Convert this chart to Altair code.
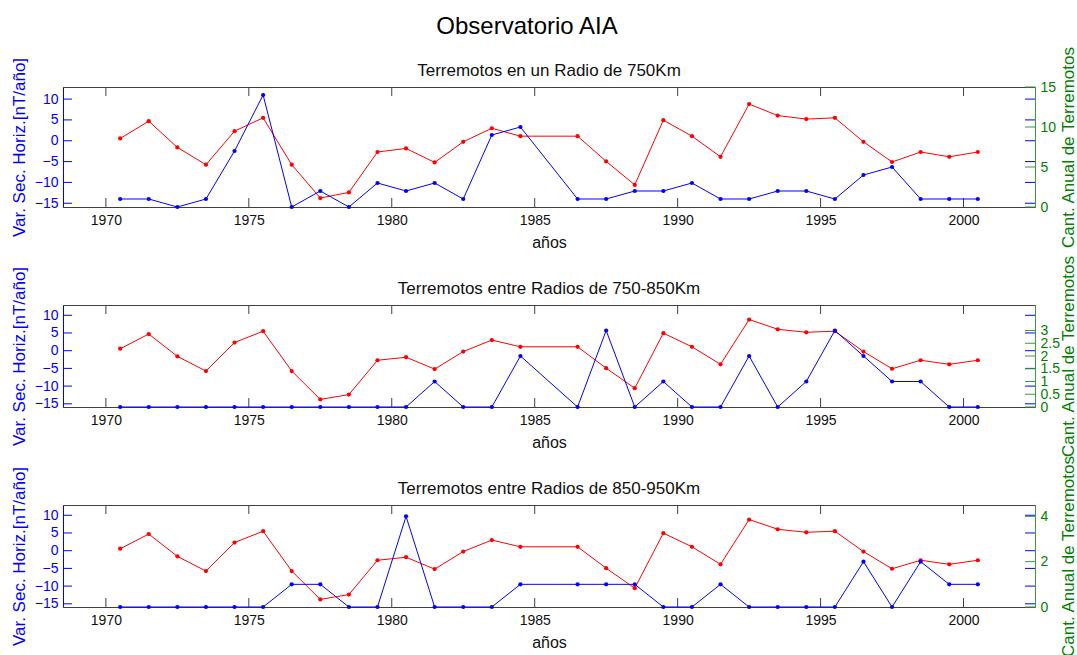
import altair as alt
import pandas as pd

# Mid-year sample positions (no record for 1985)
years = [1970.5, 1971.5, 1972.5, 1973.5, 1974.5, 1975.5, 1976.5, 1977.5, 1978.5, 1979.5,
         1980.5, 1981.5, 1982.5, 1983.5, 1984.5, 1986.5, 1987.5, 1988.5, 1989.5, 1990.5,
         1991.5, 1992.5, 1993.5, 1994.5, 1995.5, 1996.5, 1997.5, 1998.5, 1999.5, 2000.5]

# Secular variation of the horizontal component [nT/year]
var_sec = [0.55, 4.7, -1.6, -5.75, 2.3, 5.5, -5.75, -13.75, -12.4, -2.7,
           -1.85, -5.2, -0.25, 3.0, 1.1, 1.1, -4.95, -10.6, 4.95, 1.1,
           -3.85, 8.8, 6.05, 5.2, 5.5, -0.25, -5.1, -2.7, -3.85, -2.7]

# Yearly earthquake counts per distance band
cant_750 = [1, 1, 0, 1, 7, 14, 0, 2, 0, 3, 2, 3, 1, 9, 10,
            1, 1, 2, 2, 3, 1, 1, 2, 2, 1, 4, 5, 1, 1, 1]
cant_750_850 = [0, 0, 0, 0, 0, 0, 0, 0, 0, 0, 0, 1, 0, 0, 2,
                0, 3, 0, 1, 0, 0, 2, 0, 1, 3, 2, 1, 1, 0, 0]
cant_850_950 = [0, 0, 0, 0, 0, 0, 1, 1, 0, 0, 4, 0, 0, 0, 1,
                1, 1, 1, 0, 0, 1, 0, 0, 0, 0, 2, 0, 2, 1, 1]

x_ticks = [1970, 1975, 1980, 1985, 1990, 1995, 2000]
left_ticks = [-15, -10, -5, 0, 5, 10]

FONT = "Liberation Sans"
BLUE = "#0000ff"
RED = "#ff0000"
GREEN = "#008000"
GREEN_LINE = "#3a9a3a"
FRAME = "#404040"
W = 972
TICK = 9
YTITLE = 17

x_scale = alt.Scale(domain=[1968.5, 2002.5], nice=False, zero=False)
left_scale = alt.Scale(domain=[-15.9, 12.9], nice=False, zero=False)


def panel(subtitle, counts, right_max, right_ticks, h, sub_offset):
    df = pd.DataFrame({"anio": years, "var": var_sec, "cant": counts})
    xt = pd.DataFrame({"anio": x_ticks})
    lt = pd.DataFrame({"var": left_ticks})
    rt = pd.DataFrame({"cant": right_ticks})
    base = alt.Chart(df)

    # every layer carries the same axis definition so the shared axes merge cleanly
    x_axis = alt.Axis(values=x_ticks, format="d", ticks=False, domain=False, grid=False,
                      title="años", labelFontSize=14, titleFontSize=16,
                      titleFontWeight="normal", labelColor="#111111", titleColor="#111111",
                      labelPadding=6, titleY=40, titleBaseline="alphabetic")
    x_enc = alt.X("anio:Q", scale=x_scale, axis=x_axis)

    left_axis = alt.Axis(orient="left", values=left_ticks, ticks=False, grid=False,
                         domainColor=BLUE, labelColor=BLUE, titleColor=BLUE,
                         labelFontSize=14, titleFontSize=YTITLE, titleFontWeight="normal",
                         labelPadding=5, title="Var. Sec. Horiz.[nT/año]",
                         titleX=-44, titleY=h / 2, titleAngle=270,
                         titleAlign="center", titleBaseline="middle")
    y_left = alt.Y("var:Q", scale=left_scale, axis=left_axis)

    red_line = base.mark_line(color=RED, strokeWidth=1).encode(x=x_enc, y=y_left)
    red_pts = base.mark_point(color=RED, filled=True, size=18, opacity=1).encode(
        x=x_enc, y=y_left)

    top_ticks = alt.Chart(xt).mark_rule(color=FRAME, strokeWidth=1).encode(
        x=x_enc, y=alt.value(0), y2=alt.value(TICK))
    bot_ticks = alt.Chart(xt).mark_rule(color=FRAME, strokeWidth=1).encode(
        x=x_enc, y=alt.value(h - TICK), y2=alt.value(h))
    lt_left = alt.Chart(lt).mark_rule(color=BLUE, strokeWidth=1).encode(
        y=y_left, x=alt.value(0), x2=alt.value(TICK))
    lt_right = alt.Chart(lt).mark_rule(color=BLUE, strokeWidth=1).encode(
        y=y_left, x=alt.value(W - TICK - 1), x2=alt.value(W))

    left = alt.layer(red_line, red_pts, top_ticks, bot_ticks, lt_left, lt_right)

    right_scale = alt.Scale(domain=[0, right_max], nice=False, zero=False)
    right_axis = alt.Axis(orient="right", values=right_ticks, format="~g", ticks=False,
                          grid=False, domainColor=GREEN_LINE, labelColor=GREEN,
                          titleColor=GREEN, labelFontSize=14, titleFontSize=YTITLE,
                          titleFontWeight="normal", labelPadding=5, labelOverlap=False,
                          labelFlush=False, title="Cant. Anual de Terremotos",
                          titleX=33, titleY=h / 2, titleAngle=270,
                          titleAlign="center", titleBaseline="middle")
    y_right = alt.Y("cant:Q", scale=right_scale, axis=right_axis)

    blue_line = base.mark_line(color=BLUE, strokeWidth=1).encode(x=x_enc, y=y_right)
    blue_pts = base.mark_point(color=BLUE, filled=True, size=18, opacity=1).encode(
        x=x_enc, y=y_right)
    gt = alt.Chart(rt).mark_rule(color=GREEN_LINE, strokeWidth=1).encode(
        y=y_right, x=alt.value(W - TICK - 1), x2=alt.value(W))

    right = alt.layer(blue_line, blue_pts, gt)

    return alt.layer(left, right).resolve_scale(y="independent").properties(
        width=W, height=h,
        title=alt.TitleParams(subtitle, fontSize=17, fontWeight="normal", color="#111111",
                              frame="group", anchor="middle", baseline="alphabetic",
                              offset=sub_offset),
    )


p1 = panel("Terremotos en un Radio de 750Km", cant_750, 15, [0, 5, 10, 15], 120, -47)
p2 = panel("Terremotos entre Radios de 750-850Km", cant_750_850, 4,
           [0, 0.5, 1, 1.5, 2, 2.5, 3], 102, -56)
p3 = panel("Terremotos entre Radios de 850-950Km", cant_850_950, 4.5, [0, 2, 4], 102, -56)

chart = alt.vconcat(p1, p2, p3, spacing=98, bounds="flush").properties(
    title=alt.TitleParams("Observatorio AIA", fontSize=24, fontWeight="normal",
                          color="#000000", anchor="middle", frame="group",
                          baseline="alphabetic", offset=-13, dx=-22),
    padding={"left": 9, "top": 15, "right": 0, "bottom": 0},
).configure(font=FONT).configure_view(stroke=FRAME, strokeWidth=1)

chart.save("out.html", embed_options={"renderer": "svg", "actions": False})
